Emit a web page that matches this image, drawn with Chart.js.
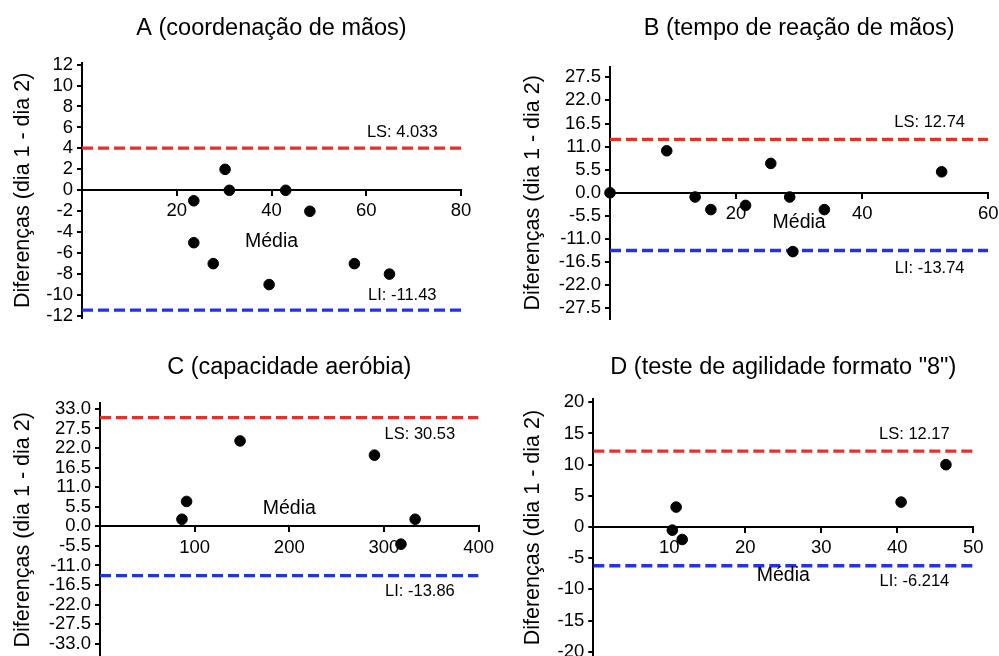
<!DOCTYPE html>
<html>
<head>
<meta charset="utf-8">
<script src="https://cdn.jsdelivr.net/npm/chart.js@4/dist/chart.umd.min.js"></script>
<style>
  html, body { margin: 0; padding: 0; background: #fff; overflow: hidden; width: 999px; height: 656px; }
  canvas { position: absolute; }
</style>
</head>
<body>
<canvas id="cA"></canvas>
<canvas id="cB"></canvas>
<canvas id="cC"></canvas>
<canvas id="cD"></canvas>
<script>
// ---------- DATA ----------
const titleA = 'A (coordenação de mãos)';
const meanA = [23.6, 23.6, 27.7, 30.2, 31.1, 43.0, 39.5, 48.1, 57.5, 64.9];
const diffA = [-1, -5, -7, 2, 0, 0, -9, -2, -7, -8];
const lsA = 4.033, liA = -11.43;
const xTicksA = [0, 20, 40, 60, 80];
const yTicksA = [-12, -10, -8, -6, -4, -2, 0, 2, 4, 6, 8, 10, 12];

const titleB = 'B (tempo de reação de mãos)';
const meanB = [0, 9.0, 13.5, 16.0, 21.5, 25.5, 28.5, 29.0, 34.0, 52.6];
const diffB = [0, 10, -1, -4, -3, 7, -1, -14, -4, 5];
const lsB = 12.74, liB = -13.74;
const xTicksB = [0, 20, 40, 60];
const yTicksB = [-27.5, -22, -16.5, -11, -5.5, 0, 5.5, 11, 16.5, 22, 27.5];

const titleC = 'C (capacidade aeróbia)';
const meanC = [86.6, 91.5, 148, 290, 318, 333];
const diffC = [2, 7, 24, 20, -5, 2];
const lsC = 30.53, liC = -13.86;
const xTicksC = [0, 100, 200, 300, 400];
const yTicksC = [-33, -27.5, -22, -16.5, -11, -5.5, 0, 5.5, 11, 16.5, 22, 27.5, 33];

const titleD = 'D (teste de agilidade formato "8")';
const meanD = [10.4, 10.9, 11.7, 40.5, 46.4];
const diffD = [-0.5, 3.2, -2, 4, 10];
const lsD = 12.17, liD = -6.214;
const xTicksD = [0, 10, 20, 30, 40, 50];
const yTicksD = [-20, -15, -10, -5, 0, 5, 10, 15, 20];

const lsLabelA = 'LS: 4.033', liLabelA = 'LI: -11.43';
const lsLabelB = 'LS: 12.74', liLabelB = 'LI: -13.74';
const lsLabelC = 'LS: 30.53', liLabelC = 'LI: -13.86';
const lsLabelD = 'LS: 12.17', liLabelD = 'LI: -6.214';
const yTitle = 'Diferenças (dia 1 - dia 2)';
const xTitle = 'Média';

// ---------- STYLE / LAYOUT ----------
Chart.defaults.font.family = '"Liberation Sans", Arial, Helvetica, sans-serif';
Chart.defaults.color = '#000';
const RED = '#e8302a', BLUE = '#2233e6';

const refLabels = {
  id: 'refLabels',
  afterDatasetsDraw(chart, args, o) {
    const ctx = chart.ctx, ca = chart.chartArea;
    const ys = chart.scales.y;
    ctx.save();
    ctx.fillStyle = '#000';
    ctx.textAlign = 'center';
    ctx.textBaseline = 'middle';
    ctx.font = '16.5px "Liberation Sans", Arial, sans-serif';
    const lx = ca.left + 0.845 * (ca.right - ca.left);
    ctx.fillText(o.lsText, lx, ys.getPixelForValue(o.ls) + o.lsOff);
    ctx.fillText(o.liText, lx, ys.getPixelForValue(o.li) + o.liOff);
    ctx.font = '19.5px "Liberation Sans", Arial, sans-serif';
    ctx.fillText(o.xTitle, (ca.left + ca.right) / 2, ys.getPixelForValue(0) + o.mediaOff);
    ctx.restore();
  }
};

function makePanel(cfg) {
  const cv = document.getElementById(cfg.id);
  cv.width = cfg.W; cv.height = cfg.H;
  cv.style.left = cfg.left + 'px'; cv.style.top = cfg.top + 'px';
  cv.style.width = cfg.W + 'px'; cv.style.height = cfg.H + 'px';
  const xmin = cfg.xTicks[0], xmax = cfg.xTicks[cfg.xTicks.length - 1];
  const pts = cfg.mean.map((m, i) => ({x: m, y: cfg.diff[i]}));
  new Chart(cv, {
    type: 'scatter',
    data: {
      datasets: [
        { data: pts, backgroundColor: '#000', borderColor: '#000', pointRadius: 5.3, pointHoverRadius: 5.3, clip: false },
        { type: 'line', data: [{x: xmin, y: cfg.ls}, {x: xmax, y: cfg.ls}], borderColor: RED, borderWidth: 3.3, borderDash: [11, 5], pointRadius: 0, fill: false },
        { type: 'line', data: [{x: xmin, y: cfg.li}, {x: xmax, y: cfg.li}], borderColor: BLUE, borderWidth: 3.3, borderDash: [11, 5], pointRadius: 0, fill: false }
      ]
    },
    options: {
      responsive: false,
      animation: false,
      devicePixelRatio: 1,
      layout: { padding: { left: 0, top: 0, right: cfg.W - cfg.right, bottom: cfg.H - cfg.bottom } },
      plugins: {
        legend: { display: false },
        tooltip: { enabled: false },
        title: {
          display: true, text: cfg.title, fullSize: false,
          font: { size: 23.5, weight: 'normal' }, color: '#000',
          padding: { top: cfg.tPad, bottom: cfg.bPad }
        },
        refLabels: {
          ls: cfg.ls, li: cfg.li, lsText: cfg.lsText, liText: cfg.liText,
          lsOff: cfg.lsOff, liOff: cfg.liOff, mediaOff: cfg.mediaOff, xTitle: xTitle
        }
      },
      scales: {
        x: {
          type: 'linear',
          position: { y: 0 },
          min: xmin, max: xmax,
          afterBuildTicks: s => { s.ticks = cfg.xTicks.map(v => ({value: v})); },
          ticks: {
            font: { size: 18.5 }, color: '#000', padding: 5, autoSkip: false, maxRotation: 0,
            callback: v => (v === 0 ? '' : String(v))
          },
          grid: { drawOnChartArea: false, drawTicks: true, tickLength: 5, color: '#000', lineWidth: 2 },
          border: { display: true, color: '#000', width: 2 }
        },
        y: {
          type: 'linear',
          position: 'left',
          min: cfg.yMin, max: cfg.yMax,
          afterBuildTicks: s => { s.ticks = cfg.yTicks.map(v => ({value: v})); },
          afterFit: s => { s.width = cfg.areaLeft; },
          ticks: {
            font: { size: 18.5 }, color: '#000', padding: 4, autoSkip: false,
            callback: v => cfg.dec ? Number(v).toFixed(1) : String(v)
          },
          grid: { drawOnChartArea: false, drawTicks: true, tickLength: 5, color: '#000', lineWidth: 2 },
          border: { display: true, color: '#000', width: 2 },
          title: { display: true, text: yTitle, font: { size: 21.5 }, color: '#000', padding: { top: cfg.yTitlePad, bottom: 0 } }
        }
      }
    },
    plugins: [refLabels]
  });
}

makePanel({ id: 'cA', left: 0, top: 0, W: 499, H: 340, areaLeft: 82, right: 461, bottom: 318.1,
  tPad: 14.2, bPad: 20.1, yTitlePad: 10.2, yMin: -12.2, yMax: 12.2, dec: false,
  title: titleA, mean: meanA, diff: diffA, ls: lsA, li: liA, xTicks: xTicksA, yTicks: yTicksA,
  lsText: lsLabelA, liText: liLabelA, lsOff: -16, liOff: -15, mediaOff: 51 });

makePanel({ id: 'cB', left: 499, top: 0, W: 510, H: 340, areaLeft: 111, right: 489.3, bottom: 318.8,
  tPad: 14.2, bPad: 24.4, yTitlePad: 20.7, yMin: -30, yMax: 30, dec: true,
  title: titleB, mean: meanB, diff: diffB, ls: lsB, li: liB, xTicks: xTicksB, yTicks: yTicksB,
  lsText: lsLabelB, liText: liLabelB, lsOff: -17, liOff: 17.5, mediaOff: 30 });

makePanel({ id: 'cC', left: 0, top: 335, W: 499, H: 345, areaLeft: 100, right: 479, bottom: 321.6,
  tPad: 18.2, bPad: 21.8, yTitlePad: 10.2, yMin: -36.6, yMax: 34.6, dec: true,
  title: titleC, mean: meanC, diff: diffC, ls: lsC, li: liC, xTicks: xTicksC, yTicks: yTicksC,
  lsText: lsLabelC, liText: liLabelC, lsOff: 17, liOff: 16, mediaOff: -18 });

makePanel({ id: 'cD', left: 499, top: 335, W: 510, H: 345, areaLeft: 94.3, right: 474.3, bottom: 321.1,
  tPad: 18.2, bPad: 17.8, yTitlePad: 20.7, yMin: -20.7, yMax: 20.5, dec: false,
  title: titleD, mean: meanD, diff: diffD, ls: lsD, li: liD, xTicks: xTicksD, yTicks: yTicksD,
  lsText: lsLabelD, liText: liLabelD, lsOff: -17, liOff: 16, mediaOff: 49 });
</script>
</body>
</html>
